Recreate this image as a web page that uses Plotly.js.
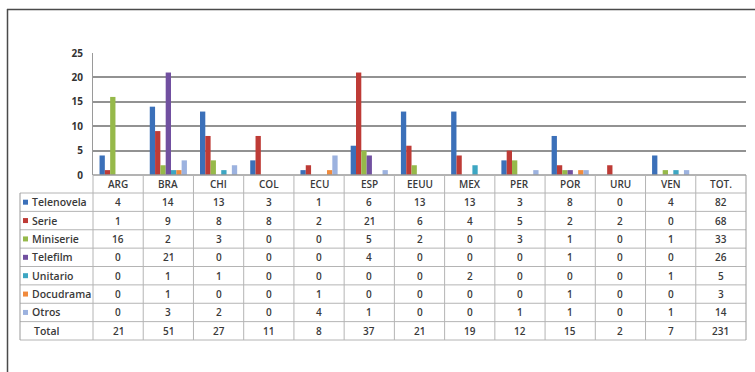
<!DOCTYPE html>
<html>
<head>
<meta charset="utf-8">
<script src="https://cdn.plot.ly/plotly-3.0.1.min.js"></script>
<style>
  html, body { margin: 0; padding: 0; background: #fff; }
  #chart { width: 755px; height: 372px; }
</style>
</head>
<body>
<div id="chart"></div>
<script>
// Country columns (the last one holds the totals and carries no bars)
const countries = ['ARG', 'BRA', 'CHI', 'COL', 'ECU', 'ESP', 'EEUU', 'MEX', 'PER', 'POR', 'URU', 'VEN'];
const totalColumn = 'TOT.';

// Productions per genre and country
const telenovela = [4, 14, 13, 3, 1, 6, 13, 13, 3, 8, 0, 4];
const serie      = [1, 9, 8, 8, 2, 21, 6, 4, 5, 2, 2, 0];
const miniserie  = [16, 2, 3, 0, 0, 5, 2, 0, 3, 1, 0, 1];
const telefilm   = [0, 21, 0, 0, 0, 4, 0, 0, 0, 1, 0, 0];
const unitario   = [0, 1, 1, 0, 0, 0, 0, 2, 0, 0, 0, 1];
const docudrama  = [0, 1, 0, 0, 1, 0, 0, 0, 0, 1, 0, 0];
const otros      = [0, 3, 2, 0, 4, 1, 0, 0, 1, 1, 0, 1];

// Totals per genre (TOT. column) and per country (Total row)
const genreTotals   = [82, 68, 33, 26, 5, 3, 14];
const countryTotals = [21, 51, 27, 11, 8, 37, 21, 19, 12, 15, 2, 7, 231];
const totalLabel = 'Total';

const genreNames  = ['Telenovela', 'Serie', 'Miniserie', 'Telefilm', 'Unitario', 'Docudrama', 'Otros'];
const genreSeries = [telenovela, serie, miniserie, telefilm, unitario, docudrama, otros];
const genreColors = ['#3B70B9', '#BE3B36', '#96B94A', '#7150A0', '#3DA6C2', '#F08A3C', '#9CB2DF'];

const yTicks = [0, 5, 10, 15, 20, 25];

// ---- pixel geometry of the plot frame and the data table below it ----
const W = 755, H = 372;
const PL = 93, PR = 746, PT = 53, PB = 175;
const pw = PR - PL, ph = PB - PT;
const px = v => (v - PL) / pw;          // pixel x -> paper x
const py = v => (PB - v) / ph;          // pixel y -> paper y

const columns = countries.concat([totalColumn]);
const nCols = columns.length;
const tableLeft = 20, headerBottom = 193, tableBottom = 340;
const nRows = genreNames.length + 1;
const rowH = (tableBottom - headerBottom) / nRows;

const traces = genreNames.map((name, i) => ({
  type: 'bar',
  name: name,
  x: countries,
  y: genreSeries[i],
  marker: { color: genreColors[i] },
  hoverinfo: 'x+y+name'
}));

const font = { family: 'Open Sans, Noto Sans, sans-serif', size: 10, color: '#3a3a3a', weight: 600 };
const labelFont = { family: 'Open Sans, Noto Sans, sans-serif', size: 10.5, color: '#3a3a3a', weight: 600 };
const shapes = [];
const annotations = [];

const lineColor = '#b4b4b4';
function hline(y, x0, x1, color, width) {
  shapes.push({ type: 'line', xref: 'paper', yref: 'paper', x0: px(x0), x1: px(x1), y0: py(y), y1: py(y),
    line: { color: color || lineColor, width: width || 1 } });
}
function vline(x, y0, y1, color, width) {
  shapes.push({ type: 'line', xref: 'paper', yref: 'paper', x0: px(x), x1: px(x), y0: py(y0), y1: py(y1),
    line: { color: color || lineColor, width: width || 1 } });
}

// Table grid: header row spans the data columns only
for (let r = 0; r <= nRows; r++) {
  const y = headerBottom + r * rowH;
  hline(y, tableLeft, PR);
}
hline(PB, PL, PR, '#9a9a9a', 1.5);
vline(tableLeft, headerBottom, tableBottom, '#9a9a9a');
for (let c = 0; c <= nCols; c++) {
  const x = PL + c * pw / nCols;
  vline(x, PB, tableBottom, c === nCols ? '#9a9a9a' : lineColor);
}

// Outer frame (left and top edges)
vline(7.5, 9, H + 5, '#4a4a4a', 1.5);
hline(9.5, 7, W + 5, '#4a4a4a', 1.5);

// Column headers
columns.forEach((c, j) => {
  annotations.push({ xref: 'paper', yref: 'paper', x: (j + 0.5) / nCols, y: py((PB + headerBottom) / 2),
    text: c, showarrow: false, font: font, xanchor: 'center', yanchor: 'middle' });
});

// Genre rows: legend key, label, values per country, genre total
genreNames.forEach((name, i) => {
  const yc = headerBottom + (i + 0.5) * rowH;
  shapes.push({ type: 'rect', xref: 'paper', yref: 'paper',
    x0: px(23), x1: px(28), y0: py(yc - 2.5), y1: py(yc + 2.5),
    line: { width: 0 }, fillcolor: genreColors[i] });
  annotations.push({ xref: 'paper', yref: 'paper', x: px(29.5), y: py(yc), text: name,
    showarrow: false, font: labelFont, xanchor: 'left', yanchor: 'middle' });
  const rowVals = genreSeries[i].concat([genreTotals[i]]);
  rowVals.forEach((v, j) => {
    annotations.push({ xref: 'paper', yref: 'paper', x: (j + 0.5) / nCols, y: py(yc), text: String(v),
      showarrow: false, font: font, xanchor: 'center', yanchor: 'middle' });
  });
});

// Total row
{
  const yc = headerBottom + (nRows - 0.5) * rowH;
  annotations.push({ xref: 'paper', yref: 'paper', x: px(32), y: py(yc), text: totalLabel,
    showarrow: false, font: labelFont, xanchor: 'left', yanchor: 'middle' });
  countryTotals.forEach((v, j) => {
    annotations.push({ xref: 'paper', yref: 'paper', x: (j + 0.5) / nCols, y: py(yc), text: String(v),
      showarrow: false, font: font, xanchor: 'center', yanchor: 'middle' });
  });
}

const layout = {
  width: W, height: H,
  margin: { l: PL, r: W - PR, t: PT, b: H - PB, pad: 0 },
  paper_bgcolor: '#fff', plot_bgcolor: '#fff',
  showlegend: false,
  barmode: 'group',
  bargap: 0.26,
  bargroupgap: 0,
  font: font,
  xaxis: {
    type: 'category',
    categoryorder: 'array',
    categoryarray: columns,
    range: [-0.5, nCols - 0.5],
    showticklabels: false,
    showgrid: false,
    zeroline: false,
    showline: false,
    fixedrange: true
  },
  yaxis: {
    range: [0, 25],
    tickvals: yTicks,
    ticktext: yTicks.map(String),
    showgrid: true,
    gridcolor: '#929292',
    gridwidth: 2,
    zeroline: false,
    showline: true,
    linecolor: '#9a9a9a',
    linewidth: 1,
    ticks: '',
    ticklabelstandoff: 7,
    tickfont: { family: 'Open Sans, Noto Sans, sans-serif', size: 10, color: '#333', weight: 'bold' },
    fixedrange: true
  },
  shapes: shapes,
  annotations: annotations
};

Plotly.newPlot('chart', traces, layout, { displayModeBar: false, staticPlot: true });
</script>
</body>
</html>
